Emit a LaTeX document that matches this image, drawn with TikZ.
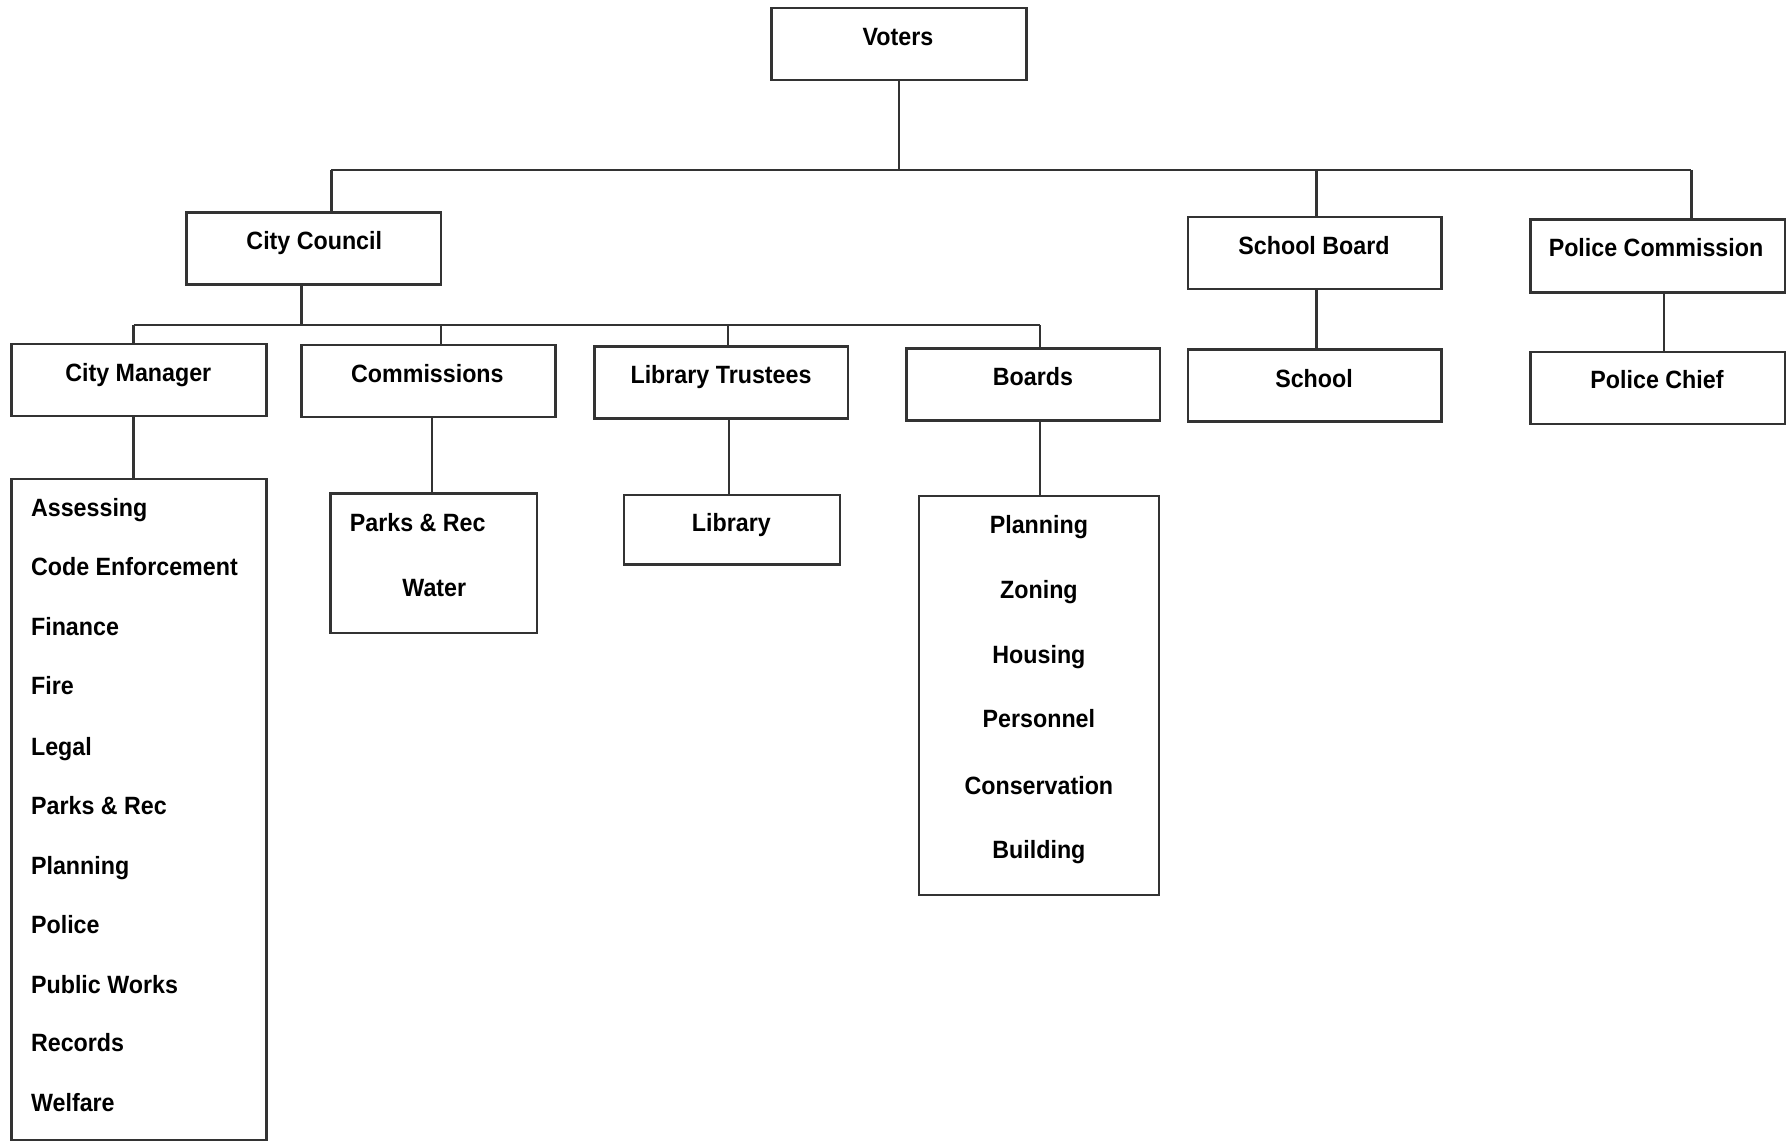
\documentclass[tikz,border=0pt]{standalone}
\usepackage{fontspec}
\setmainfont{Liberation Sans}[FakeStretch=0.93]
\begin{document}
\begin{tikzpicture}[x=1pt,y=-1pt,
  box/.style={draw=black!80, line width=2.5pt, inner sep=0pt, fill=white},
  conn/.style={draw=black!80, line width=2.5pt},
  lbl/.style={font=\fontsize{25}{30}\selectfont\bfseries, inner sep=0pt, anchor=base},
  lbll/.style={lbl, anchor=base west}]
\fill[white] (0,0) rectangle (1792,1142);
\useasboundingbox (0,0) rectangle (1792,1142);
\newcommand\orgbox[5]{\node[box, minimum width={(#4-#2)*1pt}, minimum height={(#5-#3)*1pt}] (#1) at ({(#2+#4)/2},{(#3+#5)/2}) {};}
% boxes
\orgbox{voters}{771.5}{8}{1026.5}{80}
\orgbox{council}{186.3}{212.6}{441.1}{284.6}
\orgbox{schoolboard}{1188}{217}{1441.5}{289}
\orgbox{policecomm}{1530.3}{219.4}{1785.1}{292.6}
\orgbox{cm}{11.4}{344}{266.3}{416}
\orgbox{comm}{301.7}{345.1}{555.4}{417.1}
\orgbox{libtr}{594.3}{346.3}{848}{418.3}
\orgbox{boards}{906.3}{348.6}{1160}{420.6}
\orgbox{school}{1188}{349.7}{1441.5}{421.7}
\orgbox{chief}{1530.3}{352}{1785.1}{424}
\orgbox{cmlist}{11.4}{478.9}{266.3}{1140}
\orgbox{commsub}{330.3}{493.7}{537.1}{633.1}
\orgbox{library}{624}{494.9}{840}{564.6}
\orgbox{boardsub}{918.9}{496}{1158.9}{894.9}
% bus coordinates
\coordinate (b1L) at (331.4,170);
\coordinate (b1S) at (1316.6,170);
\coordinate (b1R) at (1691.4,170);
\coordinate (b2C) at (301.7,325);
\coordinate (b2L) at (133.7,325);
\coordinate (b2a) at (441.1,325);
\coordinate (b2b) at (728,325);
\coordinate (b2R) at (1040,325);
% connectors
\draw[conn] (voters.south) -- (voters.south |- b1L);
\draw[conn] (b1L) -- (b1R);
\draw[conn] (b1L) -- (b1L |- council.north);
\draw[conn] (b1S) -- (b1S |- schoolboard.north);
\draw[conn] (b1R) -- (b1R |- policecomm.north);
\draw[conn] (b2C |- council.south) -- (b2C);
\draw[conn] (b2L) -- (b2R);
\draw[conn] (b2L) -- (b2L |- cm.north);
\draw[conn] (b2a) -- (b2a |- comm.north);
\draw[conn] (b2b) -- (b2b |- libtr.north);
\draw[conn] (b2R) -- (b2R |- boards.north);
\draw[conn] (133.7,0 |- cm.south) -- (133.7,0 |- cmlist.north);
\draw[conn] (432,0 |- comm.south) -- (432,0 |- commsub.north);
\draw[conn] (729.1,0 |- libtr.south) -- (729.1,0 |- library.north);
\draw[conn] (1040,0 |- boards.south) -- (1040,0 |- boardsub.north);
\draw[conn] (1316.6,0 |- schoolboard.south) -- (1316.6,0 |- school.north);
\draw[conn] (1664,0 |- policecomm.south) -- (1664,0 |- chief.north);
% labels
\node[lbl] (tvoters) at (898,45.6) {Voters};
\node[lbl] (tcouncil) at (314.3,250) {City Council};
\node[lbl] (tschoolboard) at (1314,254.7) {School Board};
\node[lbl] (tpolicecomm) at (1656,257) {Police Commission};
\node[lbl] (tcm) at (138.3,381.6) {City Manager};
\node[lbl] (tcomm) at (427.4,382.7) {Commissions};
\node[lbl] (tlibtr) at (721,383.9) {Library Trustees};
\node[lbl] (tboards) at (1033,385) {Boards};
\node[lbl] (tschool) at (1314,387.3) {School};
\node[lbl] (tchief) at (1657,388.4) {Police Chief};
\node[lbl] (tlibrary) at (731.4,531.3) {Library};
\node[lbll] (tparks) at (349.7,531.3) {Parks \& Rec};
\node[lbl] (twater) at (434.3,596.4) {Water};
% city manager list
\node[lbll] (l1) at (30.9,516.4) {Assessing};
\node[lbll] (l2) at (30.9,575.9) {Code Enforcement};
\node[lbll] (l3) at (30.9,635.3) {Finance};
\node[lbll] (l4) at (30.9,694.7) {Fire};
\node[lbll] (l5) at (30.9,755.3) {Legal};
\node[lbll] (l6) at (30.9,814.7) {Parks \& Rec};
\node[lbll] (l7) at (30.9,874.1) {Planning};
\node[lbll] (l8) at (30.9,933.6) {Police};
\node[lbll] (l9) at (30.9,993) {Public Works};
\node[lbll] (l10) at (30.9,1051.3) {Records};
\node[lbll] (l11) at (30.9,1111.9) {Welfare};
% boards list
\node[lbl] (m1) at (1038.9,533.6) {Planning};
\node[lbl] (m2) at (1038.9,598.7) {Zoning};
\node[lbl] (m3) at (1038.9,663.9) {Housing};
\node[lbl] (m4) at (1038.9,727.9) {Personnel};
\node[lbl] (m5) at (1038.9,794.1) {Conservation};
\node[lbl] (m6) at (1038.9,858.1) {Building};
\end{tikzpicture}
\end{document}
